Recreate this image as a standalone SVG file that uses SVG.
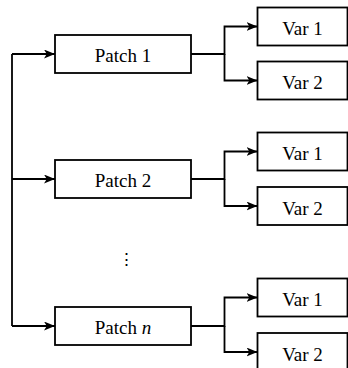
<svg xmlns="http://www.w3.org/2000/svg" width="348" height="368" viewBox="0 0 348 368">
<defs>
<style>
.box{fill:#fff;stroke:#000;stroke-width:1.8}
.lbl{font-family:"Liberation Serif","Times New Roman",serif;font-size:19px;fill:#000;text-anchor:middle}
.con{fill:none;stroke:#000;stroke-width:1.8}
.arr{marker-end:url(#ah)}
</style>
<marker id="ah" viewBox="0 0 11 9" refX="11" refY="4.5" markerWidth="11" markerHeight="9" markerUnits="userSpaceOnUse" orient="auto">
<path d="M0,0 L11,4.5 L0,9 L2.8,4.5 Z" fill="#000"/>
</marker>
</defs>
<rect width="348" height="368" fill="#fff"/>
<g id="connectors">
<path class="con" d="M12,326 L12,54"/>
<path class="con arr" d="M12,54 L55,54"/>
<path class="con arr" d="M12,179 L55,179"/>
<path class="con arr" d="M12,326 L55,326"/>
<path class="con arr" d="M191,54 L224.5,54 L224.5,26.5 L257.5,26.5"/>
<path class="con arr" d="M224.5,54 L224.5,80.5 L257.5,80.5"/>
<path class="con arr" d="M191,179 L224.5,179 L224.5,151.5 L257.5,151.5"/>
<path class="con arr" d="M224.5,179 L224.5,206 L257.5,206"/>
<path class="con arr" d="M191,326 L224.5,326 L224.5,297.5 L257.5,297.5"/>
<path class="con arr" d="M224.5,326 L224.5,352 L257.5,352"/>
</g>
<g id="patch1"><rect class="box" x="55" y="35" width="136" height="38"/><text class="lbl" x="123" y="62">Patch 1</text></g>
<g id="patch2"><rect class="box" x="55" y="160" width="136" height="38"/><text class="lbl" x="123" y="187">Patch 2</text></g>
<g id="patchn"><rect class="box" x="55" y="307" width="136" height="38"/><text class="lbl" x="123" y="334">Patch <tspan font-style="italic">n</tspan></text></g>
<g id="p1v1"><rect class="box" x="257.5" y="7.5" width="90" height="38"/><text class="lbl" x="302.5" y="35">Var 1</text></g>
<g id="p1v2"><rect class="box" x="257.5" y="61.5" width="90" height="38"/><text class="lbl" x="302.5" y="89">Var 2</text></g>
<g id="p2v1"><rect class="box" x="257.5" y="132.5" width="90" height="38"/><text class="lbl" x="302.5" y="160">Var 1</text></g>
<g id="p2v2"><rect class="box" x="257.5" y="187" width="90" height="38"/><text class="lbl" x="302.5" y="214.5">Var 2</text></g>
<g id="pnv1"><rect class="box" x="257.5" y="278.5" width="90" height="38"/><text class="lbl" x="302.5" y="306">Var 1</text></g>
<g id="pnv2"><rect class="box" x="257.5" y="333" width="90" height="38"/><text class="lbl" x="302.5" y="360.5">Var 2</text></g>
<g id="ellipsis"><text class="lbl" x="126.5" y="265" style="font-family:'DejaVu Serif',serif;font-size:17px">⋮</text></g>
</svg>
